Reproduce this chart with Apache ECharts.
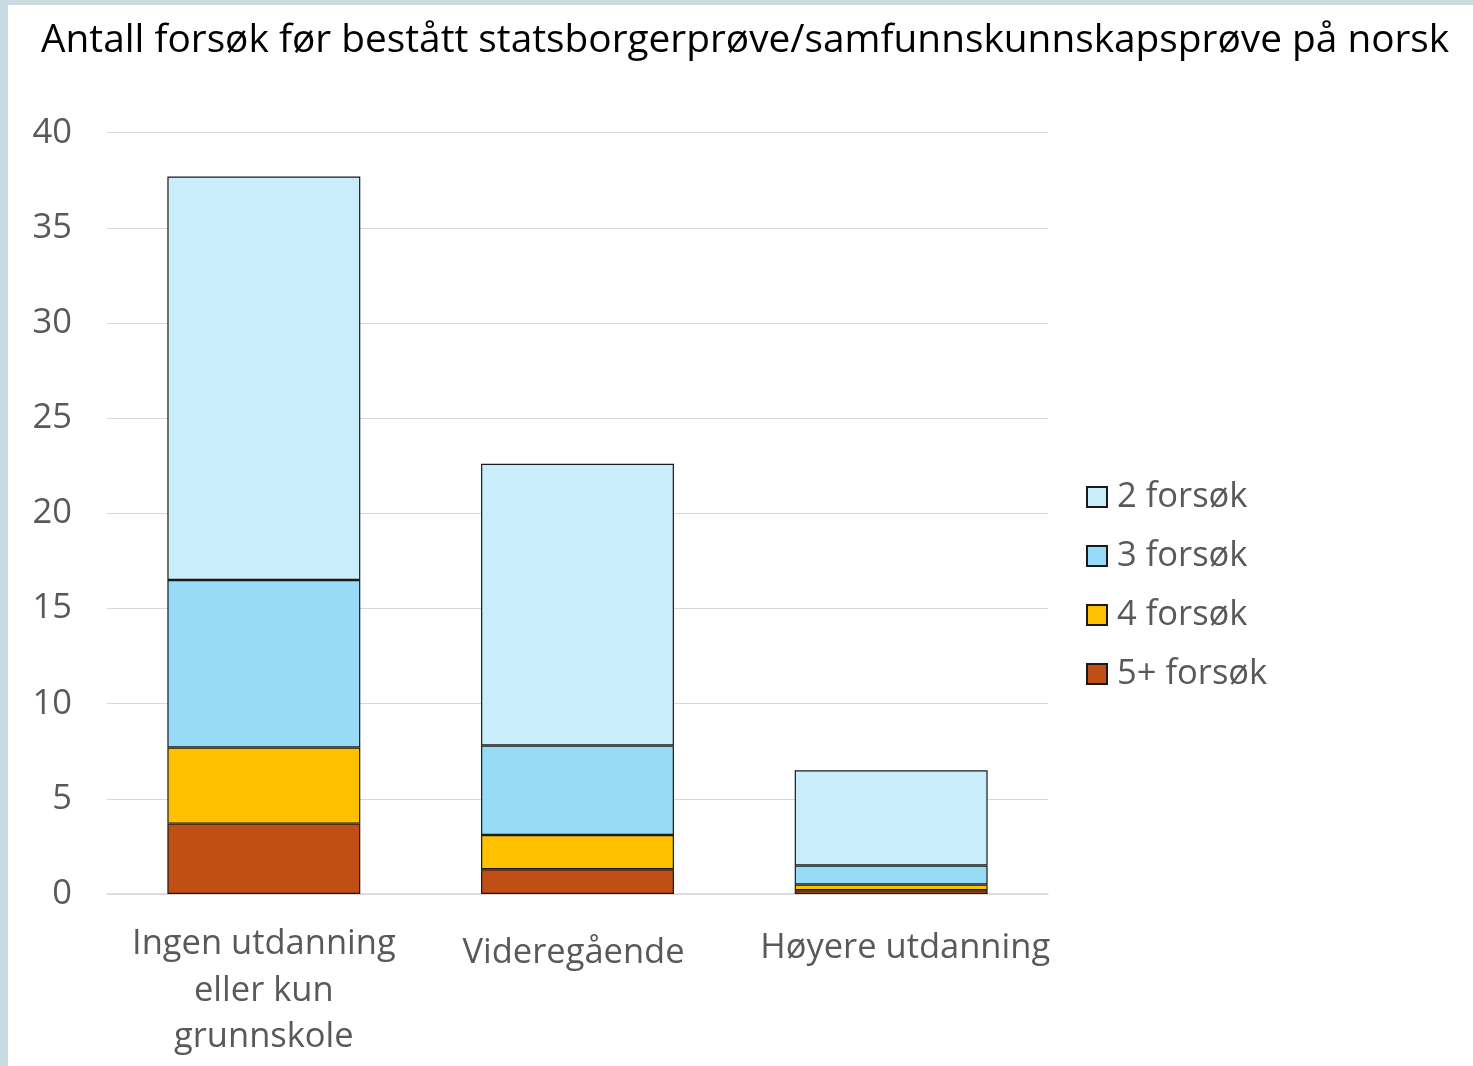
<!DOCTYPE html>
<html>
<head>
<meta charset="utf-8">
<script src="https://cdn.jsdelivr.net/npm/echarts@6/dist/echarts.min.js"></script>
<style>
html,body{margin:0;padding:0;background:#fff;}
#chart{width:1473px;height:1066px;}
</style>
</head>
<body>
<div id="chart"></div>
<script>
const categories = ['Ingen utdanning\neller kun\ngrunnskole', 'Videregående', 'Høyere utdanning'];
const seriesNames = ['2 forsøk', '3 forsøk', '4 forsøk', '5+ forsøk'];
const v5plus = [3.7, 1.3, 0.2];
const v4 = [4.0, 1.8, 0.3];
const v3 = [8.8, 4.7, 1.0];
const v2 = [21.2, 14.8, 5.0];
const yTicks = [0, 5, 10, 15, 20, 25, 30, 35, 40];

const colors = {
  '2 forsøk': '#CAEDFB',
  '3 forsøk': '#97DBF7',
  '4 forsøk': '#FFC000',
  '5+ forsøk': '#C04F15'
};
const FONT = 'Open Sans';
// small offsets of the category labels as in the original: [top, right, bottom, left]
const catPad = [[0, 0, 0, 0], [9, 8, 0, 0], [4, 0, 0, 28]];

function mk(name, data) {
  return {
    name: name, type: 'bar', stack: 'total', data: data,
    barCategoryGap: '38.5%',
    itemStyle: { color: colors[name], borderColor: '#1a1a1a', borderWidth: 1.2 },
    emphasis: { disabled: true }
  };
}

const chart = echarts.init(document.getElementById('chart'), null, { renderer: 'canvas' });
chart.setOption({
  backgroundColor: '#ffffff',
  animation: false,
  title: {
    text: 'Antall forsøk før bestått statsborgerprøve/samfunnskunnskapsprøve på norsk',
    left: 36, top: 16,
    textStyle: { fontFamily: FONT, fontSize: 38.8, fontWeight: 'normal', color: '#000000' }
  },
  graphic: [
    { type: 'rect', left: 0, top: 0, shape: { width: 1473, height: 5 }, style: { fill: '#c8dbe0' }, silent: true },
    { type: 'rect', left: 0, top: 0, shape: { width: 8, height: 1066 }, style: { fill: '#c8dbe0' }, silent: true }
  ],
  legend: {
    data: seriesNames,
    orient: 'vertical',
    left: 1081, top: 472,
    icon: 'rect',
    itemWidth: 20, itemHeight: 20,
    itemGap: 19,
    textStyle: { fontFamily: FONT, fontSize: 34.5, color: '#595959', lineHeight: 40, padding: [0, 0, 0, 5] }
  },
  grid: { left: 107, right: 425, top: 132.7, bottom: 172 },
  xAxis: {
    type: 'category',
    data: categories.map(function (c, i) {
      return { value: c, textStyle: { padding: catPad[i] } };
    }),
    axisLine: { show: true, lineStyle: { color: '#d9d9d9', width: 1.5 } },
    axisTick: { show: false },
    axisLabel: {
      interval: 0, margin: 27,
      fontFamily: FONT, fontSize: 34.5, color: '#595959', lineHeight: 46.5
    }
  },
  yAxis: {
    type: 'value', min: 0, max: 40, interval: 5,
    axisLine: { show: false }, axisTick: { show: false },
    splitLine: { lineStyle: { color: '#d9d9d9', width: 1.2 } },
    axisLabel: {
      margin: 35, fontFamily: FONT, fontSize: 34.5, color: '#595959',
      formatter: function (v) { return yTicks.indexOf(v) >= 0 ? String(v) : ''; }
    }
  },
  series: [
    mk('5+ forsøk', v5plus),
    mk('4 forsøk', v4),
    mk('3 forsøk', v3),
    mk('2 forsøk', v2)
  ]
});
</script>
</body>
</html>
